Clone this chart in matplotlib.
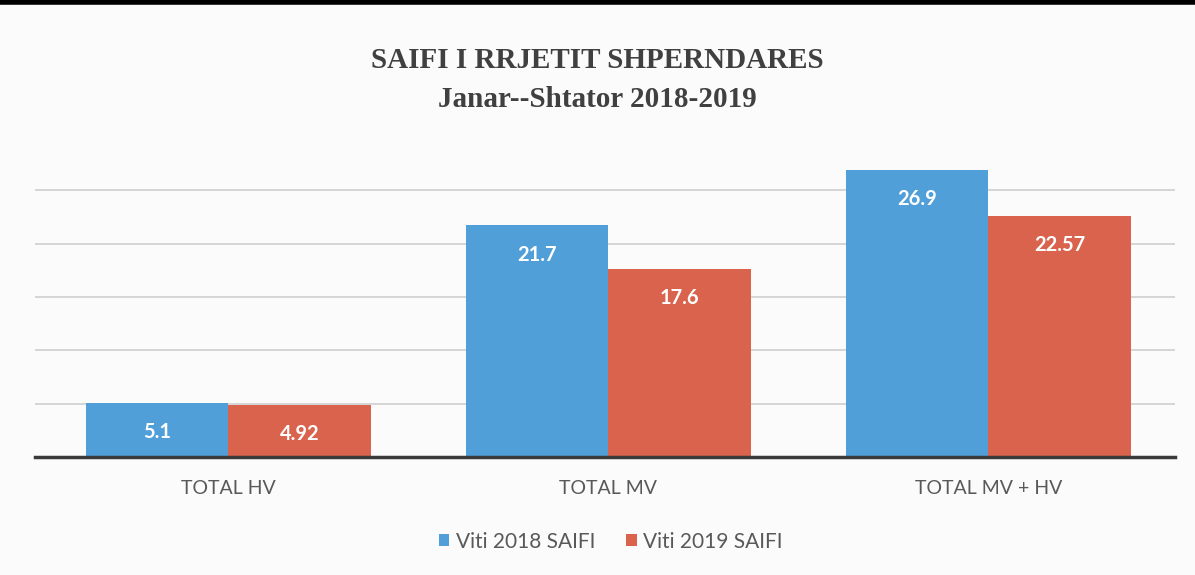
import matplotlib.pyplot as plt
import numpy as np
from matplotlib.lines import Line2D

categories = ["TOTAL HV", "TOTAL MV", "TOTAL MV + HV"]
saifi_2018 = [5.1, 21.7, 26.9]
saifi_2019 = [4.92, 17.6, 22.57]
labels_2018 = ["5.1", "21.7", "26.9"]
labels_2019 = ["4.92", "17.6", "22.57"]
series_names = ["Viti 2018 SAIFI", "Viti 2019 SAIFI"]

blue = "#519fd9"
red = "#d9634c"

fig = plt.figure(figsize=(11.95, 5.75), dpi=100)
fig.set_facecolor("#fbfbfb")
ax = fig.add_axes([0.029, 0.205, 0.954, 0.557])
ax.set_facecolor("#fbfbfb")

x = np.arange(len(categories))
w = 0.376
b1 = ax.bar(x - w / 2, saifi_2018, w, color=blue, label=series_names[0], zorder=3)
b2 = ax.bar(x + w / 2, saifi_2019, w, color=red, label=series_names[1], zorder=3)

# value labels inside the bars, near the top
for bars, labs in [(b1, labels_2018), (b2, labels_2019)]:
    for bar, lab in zip(bars, labs):
        ax.annotate(lab, (bar.get_x() + bar.get_width() / 2, bar.get_height()),
                    xytext=(0, -21), textcoords="offset points",
                    ha="center", va="center", color="white",
                    fontsize=14.5, fontweight="bold", family="Lato", zorder=4)

ax.set_xlim(-0.51, 2.49)
ax.set_ylim(0, 30)
ax.set_yticks([5, 10, 15, 20, 25])
ax.grid(axis="y", color="#cfcfcf", linewidth=1.2, zorder=0)
ax.tick_params(axis="y", left=False, labelleft=False)
ax.tick_params(axis="x", bottom=False, pad=13)
ax.set_xticks(x)
ax.set_xticklabels(categories, fontsize=14, color="#595959", family="Lato")
for s in ["top", "right", "left"]:
    ax.spines[s].set_visible(False)
ax.spines["bottom"].set_color("#3a3a3a")
ax.spines["bottom"].set_linewidth(2.5)
ax.spines["bottom"].set_zorder(5)

fig.text(0.5, 0.895, "SAIFI I RRJETIT SHPERNDARES", ha="center", va="center",
         fontsize=21, fontweight="bold", family="Liberation Serif", color="#404040")
fig.text(0.5, 0.827, "Janar--Shtator 2018-2019", ha="center", va="center",
         fontsize=21, fontweight="bold", family="Liberation Serif", color="#404040")

leg = fig.legend(loc="center", bbox_to_anchor=(0.511, 0.058), ncol=2, frameon=False,
                 prop={"family": "Lato", "size": 15}, handlelength=0.5,
                 handleheight=0.5, handletextpad=0.3, columnspacing=1.5)
for t in leg.get_texts():
    t.set_color("#595959")

# black rule at the top of the page
fig.add_artist(Line2D([0, 1], [0.996, 0.996], color="black", linewidth=4,
                      transform=fig.transFigure))

fig.savefig("out.png", dpi=100, facecolor=fig.get_facecolor())
